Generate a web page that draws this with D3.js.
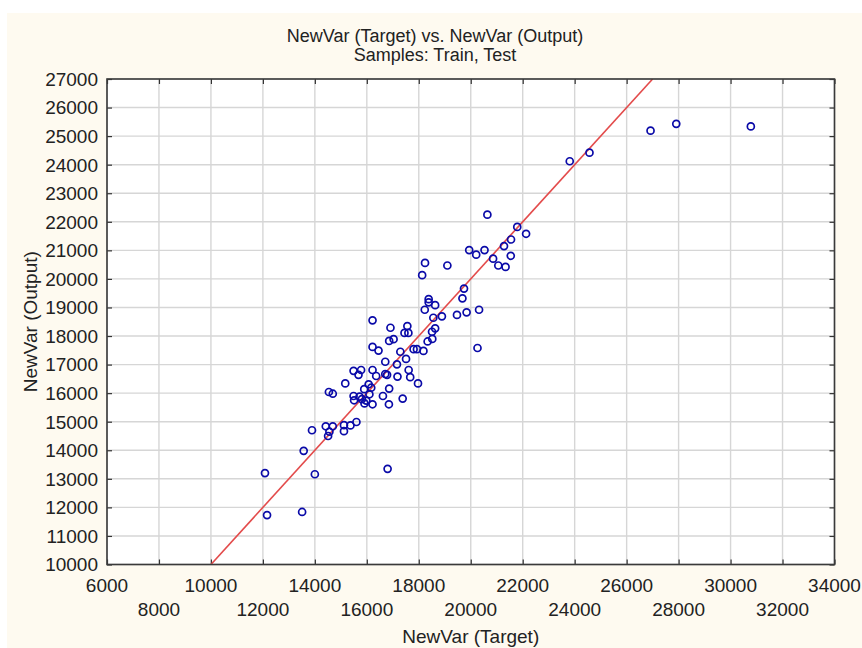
<!DOCTYPE html>
<html>
<head>
<meta charset="utf-8">
<script src="https://cdn.jsdelivr.net/npm/d3@7"></script>
<style>
	html, body { margin: 0; padding: 0; background: #ffffff; }
	svg text { font-family: 'Liberation Sans Narrow', 'Arial Narrow', 'Liberation Sans', Arial, sans-serif; fill: #222; }
</style>
</head>
<body>
<div id="chart"></div>
<script>
	'use strict';

	// titles
	var titleLines = ['NewVar (Target) vs. NewVar (Output)', 'Samples: Train, Test'];
	var xTitle = 'NewVar (Target)';
	var yTitle = 'NewVar (Output)';

	// axis ranges and ticks
	var xDomain = [6000, 34000];
	var yDomain = [10000, 27000];
	var xTicks = [6000, 8000, 10000, 12000, 14000, 16000, 18000, 20000, 22000, 24000, 26000, 28000, 30000, 32000, 34000];
	var yTicks = [10000, 11000, 12000, 13000, 14000, 15000, 16000, 17000, 18000, 19000, 20000, 21000, 22000, 23000, 24000, 25000, 26000, 27000];

	// samples (target, output)
	var targetValues = [
		12160, 13510,
		12080, 14000, 16800, 13570, 13890, 14420, 14690, 14560, 14510, 15120,
		15120, 15370, 15600, 14540, 14690, 15170, 15490, 15780, 15680, 16220,
		16360, 16710, 16780, 16710, 17160, 17510, 17180, 17610, 17670, 17970,
		16070, 16170, 15900, 16860, 15490, 15720, 15810, 15980, 16100, 16220,
		15910, 16620, 16850, 17380, 15510, 16220, 16220, 16450, 16910, 16860,
		17030, 18380, 18380, 18630, 18230, 18560, 18890, 19470, 19840, 20320,
		19680, 19740, 17560, 17450, 17600, 18630, 18510, 18520, 18340, 17290,
		17800, 17930, 18180, 20260, 18240, 18130, 19100, 19940, 20210, 20530,
		20640, 20860, 21060, 21340, 21540, 21280, 21550, 21790, 22130, 23810,
		24570, 26920, 27910, 30780
	];
	var outputValues = [
		11730, 11840,
		13200, 13160, 13350, 13980, 14700, 14840, 14840, 14650, 14500, 14880,
		14670, 14870, 14990, 16040, 15980, 16340, 16780, 16810, 16640, 16810,
		16600, 16670, 16640, 17100, 17010, 17200, 16580, 16810, 16560, 16340,
		16310, 16190, 16140, 16160, 15900, 15880, 15790, 15740, 15960, 15610,
		15640, 15900, 15610, 15810, 15750, 18550, 17620, 17490, 18290, 17830,
		17890, 19290, 19180, 19080, 18920, 18640, 18690, 18740, 18830, 18920,
		19320, 19660, 18350, 18110, 18110, 18270, 18150, 17900, 17810, 17450,
		17540, 17540, 17480, 17580, 20560, 20130, 20470, 21010, 20850, 21010,
		22250, 20710, 20470, 20420, 20810, 21150, 21380, 21820, 21580, 24120,
		24420, 25190, 25430, 25340
	];

	var width = 862, height = 648;
	var plot = { left: 107, right: 834.5, top: 79, bottom: 564.5 };

	var svg = d3.select('#chart').append('svg')
		.attr('width', width)
		.attr('height', height);

	// cream panel behind everything
	svg.append('rect')
		.attr('x', 7).attr('y', 13)
		.attr('width', width - 7).attr('height', height - 13)
		.attr('fill', '#fefaf0');

	var x = d3.scaleLinear().domain(xDomain).range([plot.left, plot.right]);
	var y = d3.scaleLinear().domain(yDomain).range([plot.bottom, plot.top]);

	svg.append('rect')
		.attr('x', plot.left).attr('y', plot.top)
		.attr('width', plot.right - plot.left).attr('height', plot.bottom - plot.top)
		.attr('fill', '#ffffff');

	// grid
	var grid = svg.append('g').attr('class', 'grid');
	grid.selectAll('line.vx').data(xTicks).enter().append('line')
		.attr('x1', function (d) { return x(d); })
		.attr('x2', function (d) { return x(d); })
		.attr('y1', plot.top).attr('y2', plot.bottom)
		.attr('stroke', '#d6d6d6').attr('stroke-width', 1.4);
	grid.selectAll('line.hy').data(yTicks).enter().append('line')
		.attr('y1', function (d) { return y(d); })
		.attr('y2', function (d) { return y(d); })
		.attr('x1', plot.left).attr('x2', plot.right)
		.attr('stroke', '#d6d6d6').attr('stroke-width', 1.4);

	// inward ticks on all four sides
	var tickLen = 5;
	function styleAxis(g) {
		g.select('.domain').remove();
		g.selectAll('.tick line').attr('stroke', '#333').attr('stroke-width', 1.2);
		g.selectAll('.tick text').remove();
	}
	svg.append('g').attr('transform', 'translate(0,' + plot.bottom + ')')
		.call(d3.axisTop(x).tickValues(xTicks).tickSize(tickLen)).call(styleAxis);
	svg.append('g').attr('transform', 'translate(0,' + plot.top + ')')
		.call(d3.axisBottom(x).tickValues(xTicks).tickSize(tickLen)).call(styleAxis);
	svg.append('g').attr('transform', 'translate(' + plot.left + ',0)')
		.call(d3.axisRight(y).tickValues(yTicks).tickSize(tickLen)).call(styleAxis);
	svg.append('g').attr('transform', 'translate(' + plot.right + ',0)')
		.call(d3.axisLeft(y).tickValues(yTicks).tickSize(tickLen)).call(styleAxis);

	// tick labels: y right aligned, x in two staggered rows
	svg.append('g').selectAll('text').data(yTicks).enter().append('text')
		.attr('x', plot.left - 9)
		.attr('y', function (d) { return y(d); })
		.attr('dy', '0.36em')
		.attr('text-anchor', 'end')
		.style('font-size', '19px')
		.text(function (d) { return d; });
	svg.append('g').selectAll('text').data(xTicks).enter().append('text')
		.attr('x', function (d) { return x(d); })
		.attr('y', function (d, i) { return i % 2 === 0 ? 585 : 609; })
		.attr('dy', '0.36em')
		.attr('text-anchor', 'middle')
		.style('font-size', '19px')
		.text(function (d) { return d; });

	// y = x reference line, clipped to the plot
	svg.append('clipPath').attr('id', 'plotClip').append('rect')
		.attr('x', plot.left).attr('y', plot.top)
		.attr('width', plot.right - plot.left).attr('height', plot.bottom - plot.top);
	svg.append('line')
		.attr('clip-path', 'url(#plotClip)')
		.attr('x1', x(yDomain[0])).attr('y1', y(yDomain[0]))
		.attr('x2', x(yDomain[1])).attr('y2', y(yDomain[1]))
		.attr('stroke', '#e34b4b').attr('stroke-width', 1.6);

	// points
	svg.append('g').selectAll('circle').data(d3.range(targetValues.length)).enter().append('circle')
		.attr('cx', function (i) { return x(targetValues[i]); })
		.attr('cy', function (i) { return y(outputValues[i]); })
		.attr('r', 3.5)
		.attr('fill', 'none')
		.attr('stroke', '#0a0aa8')
		.attr('stroke-width', 1.7);

	// frame
	svg.append('rect')
		.attr('x', plot.left).attr('y', plot.top)
		.attr('width', plot.right - plot.left).attr('height', plot.bottom - plot.top)
		.attr('fill', 'none').attr('stroke', '#3a3a3a').attr('stroke-width', 1.6);

	// titles
	svg.selectAll('text.title').data(titleLines).enter().append('text')
		.attr('class', 'title')
		.attr('x', 435)
		.attr('y', function (d, i) { return 36 + i * 19; })
		.attr('dy', '0.36em')
		.attr('text-anchor', 'middle')
		.style('font-size', '18px')
		.text(function (d) { return d; });
	svg.append('text')
		.attr('x', (plot.left + plot.right) / 2).attr('y', 636)
		.attr('dy', '0.36em')
		.attr('text-anchor', 'middle')
		.style('font-size', '19px')
		.text(xTitle);
	svg.append('text')
		.attr('transform', 'translate(30,' + (plot.top + plot.bottom) / 2 + ') rotate(-90)')
		.attr('dy', '0.36em')
		.attr('text-anchor', 'middle')
		.style('font-size', '19px')
		.text(yTitle);
</script>
</body>
</html>
